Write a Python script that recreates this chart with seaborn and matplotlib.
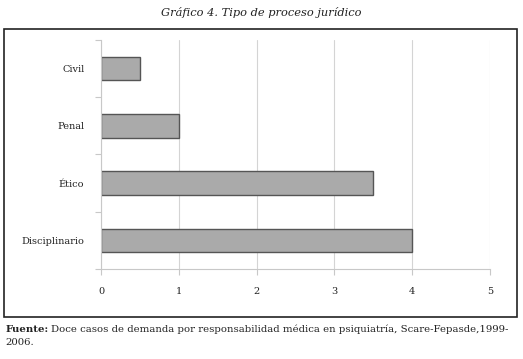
import matplotlib
matplotlib.use('Agg')
import matplotlib.pyplot as plt
import seaborn as sns
import pandas as pd
from matplotlib.patches import Rectangle
from matplotlib.ticker import FixedLocator

tipos = ['Civil', 'Penal', 'Ético', 'Disciplinario']
casos = [0.5, 1, 3.5, 4]
xticks = [0, 1, 2, 3, 4, 5]

df = pd.DataFrame({'Tipo': tipos, 'Casos': casos})

sns.set_style('white')
plt.rcParams['font.family'] = ['DejaVu Serif']

fig = plt.figure(figsize=(5.23, 3.59), dpi=100)
ax = fig.add_axes([0.1931, 0.2507, 0.937 - 0.1931, 0.8886 - 0.2507])

sns.barplot(data=df, y='Tipo', x='Casos', orient='h', color='#aaaaaa',
            edgecolor='#555555', linewidth=1, width=0.41, saturation=1, ax=ax)

ax.set_xlim(0, 5)
ax.set_ylim(3.5, -0.5)
ax.set_xticks(xticks)
ax.set_xticklabels([str(t) for t in xticks], fontsize=7)
ax.tick_params(axis='x', bottom=True, length=4, color='#c8c8c8', width=0.8, pad=9,
               labelcolor='#222222')
ax.tick_params(axis='y', which='major', left=False, length=0, pad=12, labelsize=7,
               labelcolor='#222222')
ax.yaxis.set_minor_locator(FixedLocator([-0.5, 0.5, 1.5, 2.5, 3.5]))
ax.tick_params(axis='y', which='minor', left=True, length=4, color='#c8c8c8', width=0.8)
ax.grid(axis='x', color='#d4d4d4', linewidth=0.8)
ax.set_axisbelow(True)
ax.set_xlabel('')
ax.set_ylabel('')
for s in ['top', 'right']:
    ax.spines[s].set_visible(False)
for s in ['left', 'bottom']:
    ax.spines[s].set_color('#c8c8c8')
    ax.spines[s].set_linewidth(0.8)

# marco exterior
fig.patches.append(Rectangle((0.0076, 0.117), 0.9885 - 0.0076, 0.919 - 0.117,
                             transform=fig.transFigure, fill=False,
                             edgecolor='#222222', linewidth=1.2))

fig.text(0.5, 0.966, 'Gráfico 4. Tipo de proceso jurídico', ha='center', va='center',
         fontsize=8.2, style='italic', color='#222222')
fig.text(0.01, 0.083, 'Fuente:', fontsize=7.3, fontweight='bold', va='center', color='#222222')
fig.text(0.097, 0.083, 'Doce casos de demanda por responsabilidad médica en psiquiatría, Scare-Fepasde,1999-',
         fontsize=7.3, va='center', color='#222222')
fig.text(0.01, 0.047, '2006.', fontsize=7.3, va='center', color='#222222')

fig.savefig('out.png', dpi=100, facecolor='white')
